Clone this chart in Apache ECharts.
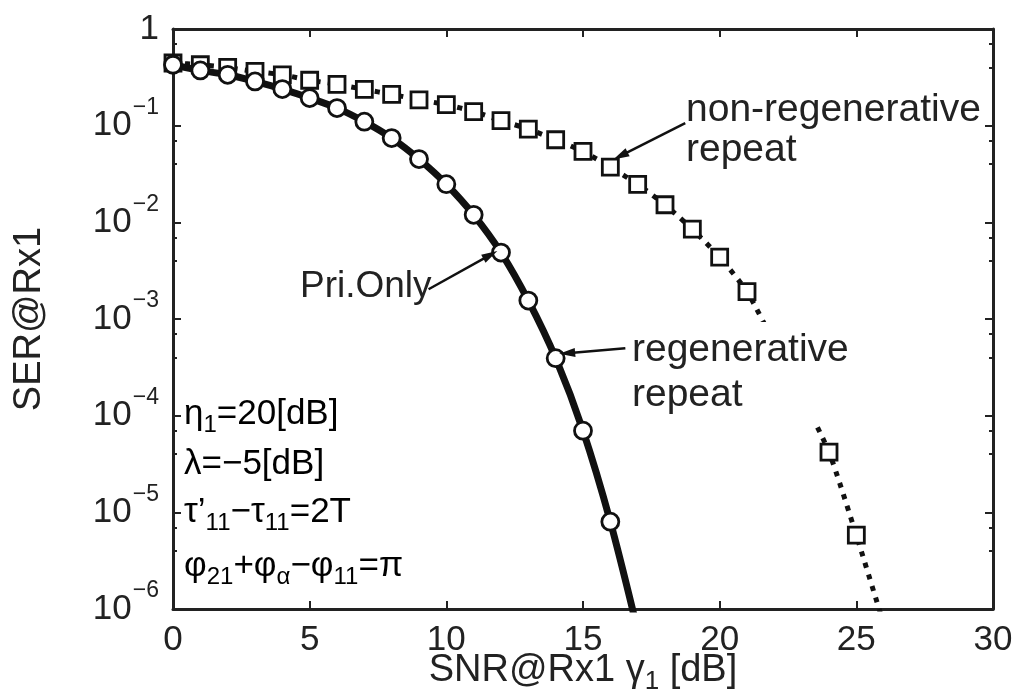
<!DOCTYPE html>
<html>
<head>
<meta charset="utf-8">
<script src="https://cdn.jsdelivr.net/npm/echarts@6/dist/echarts.min.js"></script>
<style>
html,body{margin:0;padding:0;background:#fff;}
#chart{width:1023px;height:695px;}
</style>
</head>
<body>
<div id="chart"></div>
<script>
// ---- data ----
const snrX = [0,1,2,3,4,5,6,7,8,9,10,11,12,13,14,15,16,17,18,19,20,21,22,23,24,25,26];
const nonRegenSER = [0.445,0.427,0.400,0.364,0.336,0.295,0.268,0.237,0.211,0.185,0.165,0.140,0.113,0.0922,0.0715,0.0541,0.0373,0.0247,0.0152,0.0085,0.00436,0.00192,0.00056,0.00016,0.000042,0.0000058,0.0000007];
const regenSER = [0.427,0.373,0.336,0.287,0.239,0.193,0.152,0.110,0.0744,0.0451,0.0248,0.01196,0.00487,0.00155,0.000393,0.000070,0.0000080];
const priOnlySER = [0.427,0.373,0.336,0.287,0.239,0.193,0.152,0.110,0.0744,0.0451,0.0248,0.01196,0.00487,0.00155,0.000393,0.000070,0.0000080,0.0000006];
const xTicks = [0,5,10,15,20,25,30];
const yTickExp = [-6,-5,-4,-3,-2,-1,0];

const FONT = 'Liberation Sans';
const chart = echarts.init(document.getElementById('chart'), null, {renderer:'canvas'});

function pairs(xs, ys, hideFrom){
  return ys.map((v,i)=>{
    const item = {value:[xs[i], v]};
    if (hideFrom !== undefined && i >= hideFrom) item.symbol = 'none';
    return item;
  });
}

const yLabelRich = {
  b:{fontFamily:FONT,fontSize:35,color:'#222',lineHeight:35,verticalAlign:'bottom'},
  s:{fontFamily:FONT,fontSize:23,color:'#222',lineHeight:23,padding:[0,0,24,1],verticalAlign:'bottom'}
};

const option = {
  animation:false,
  backgroundColor:'#fff',
  grid:{left:173,right:30,top:29,bottom:86,containLabel:false,outerBoundsMode:'none'},
  xAxis:[{
    type:'value',min:0,max:30,interval:5,
    axisLine:{show:true,onZero:false,lineStyle:{color:'#222',width:3}},
    axisTick:{show:true,inside:true,length:8,lineStyle:{color:'#222',width:2}},
    splitLine:{show:false},
    axisLabel:{fontFamily:FONT,fontSize:35,color:'#222',margin:14,
      formatter:v=> xTicks.indexOf(v)>=0 ? String(v) : ''},
    name:'{m|SNR@Rx1 }{m|γ}{sub|1}{m| [dB]}',
    nameLocation:'middle',nameGap:43,nameMoveOverlap:false,
    nameTextStyle:{rich:{
      m:{fontFamily:FONT,fontSize:38,color:'#222',lineHeight:38,verticalAlign:'top'},
      sub:{fontFamily:FONT,fontSize:26,color:'#222',lineHeight:26,padding:[17,0,0,0],verticalAlign:'top'}
    }}
  },{
    type:'value',min:0,max:30,interval:5,position:'top',
    axisLine:{show:true,onZero:false,lineStyle:{color:'#222',width:3}},
    axisTick:{show:true,inside:true,length:8,lineStyle:{color:'#222',width:2}},
    axisLabel:{show:false},splitLine:{show:false}
  }],
  yAxis:[{
    type:'log',logBase:10,min:1e-6,max:1,interval:1,
    axisLine:{show:true,onZero:false,lineStyle:{color:'#222',width:3}},
    axisTick:{show:true,inside:true,length:8,lineStyle:{color:'#222',width:2}},
    minorTick:{show:true,splitNumber:3,length:4,lineStyle:{color:'#222',width:2}},
    splitLine:{show:false},
    axisLabel:{margin:14,
      formatter:function(v){
        const e = Math.round(Math.log10(v));
        if (yTickExp.indexOf(e) < 0) return '';
        if (e === 0) return '{b|1}';
        return '{b|10}{s|−' + (-e) + '}';
      },
      rich:yLabelRich},
    name:'SER@Rx1',nameLocation:'middle',nameGap:124,nameRotate:90,nameMoveOverlap:false,
    nameTextStyle:{fontFamily:FONT,fontSize:38,color:'#222'}
  },{
    type:'log',logBase:10,min:1e-6,max:1,interval:1,position:'right',
    axisLine:{show:true,onZero:false,lineStyle:{color:'#222',width:3}},
    axisTick:{show:true,inside:true,length:8,lineStyle:{color:'#222',width:2}},
    minorTick:{show:true,splitNumber:3,length:4,lineStyle:{color:'#222',width:2}},
    axisLabel:{show:false},splitLine:{show:false}
  }],
  series:[
    {
      name:'non-regenerative repeat',type:'line',xAxisIndex:0,yAxisIndex:0,
      data:pairs(snrX,nonRegenSER,26),
      smooth:0.2,
      symbol:'rect',symbolSize:16,
      lineStyle:{color:'#111',width:5,type:[5,7]},
      itemStyle:{color:'#fff',borderColor:'#111',borderWidth:2.8},
      z:2,clip:true
    },
    {
      name:'Pri.Only',type:'line',
      data:pairs(snrX,priOnlySER),
      smooth:0.3,symbol:'none',
      lineStyle:{color:'#111',width:7},
      z:3,clip:true
    },
    {
      name:'regenerative repeat',type:'line',
      data:pairs(snrX,regenSER),
      smooth:0.3,
      symbol:'circle',symbolSize:17,
      lineStyle:{color:'#111',width:2},
      itemStyle:{color:'#fff',borderColor:'#111',borderWidth:2.8},
      z:4,clip:true,
      markLine:{
        silent:true,symbol:['none','triangle'],symbolSize:[9,16],
        label:{show:false},
        lineStyle:{color:'#111',width:2.5,type:'solid'},
        data:[
          [{coord:[18.74,0.1064]},{coord:[16.37,0.0488]}],
          [{coord:[9.35,0.00203]},{coord:[11.61,0.00461]}],
          [{coord:[16.55,0.000499]},{coord:[14.42,0.000443]}]
        ]
      }
    }
  ]
};
chart.setOption(option);

// ---- annotations (text) ----
const paramRich = {
  m:{fontFamily:FONT,fontSize:35,color:'#222',lineHeight:35,verticalAlign:'top'},
  sub:{fontFamily:FONT,fontSize:24,color:'#222',lineHeight:24,padding:[16,0,0,0],verticalAlign:'top'}
};
chart.setOption({graphic:[
  {type:'text',left:686,top:90,z:100,style:{text:'non-regenerative\nrepeat',font:'39px "Liberation Sans"',fill:'#222',lineHeight:40}},
  {type:'text',left:300,top:268,z:100,style:{text:'Pri.Only',font:'37px "Liberation Sans"',fill:'#222'}},
  {type:'rect',left:628,top:322,z:99,shape:{width:224,height:102},style:{fill:'#fff'}},
  {type:'text',left:632,top:328,z:100,style:{text:'regenerative\nrepeat',font:'39px "Liberation Sans"',fill:'#222',lineHeight:45}},
  {type:'text',left:184,top:397,z:100,style:{text:'{m|η}{sub|1}{m|=20[dB]}',rich:paramRich}},
  {type:'text',left:184,top:447,z:100,style:{text:'{m|λ=−5[dB]}',rich:paramRich}},
  {type:'text',left:184,top:495,z:100,style:{text:'{m|τ’}{sub|11}{m|−τ}{sub|11}{m|=2T}',rich:paramRich}},
  {type:'text',left:184,top:549,z:100,style:{text:'{m|φ}{sub|21}{m|+φ}{sub|α}{m|−φ}{sub|11}{m|=π}',rich:paramRich}}
]});
</script>
</body>
</html>
